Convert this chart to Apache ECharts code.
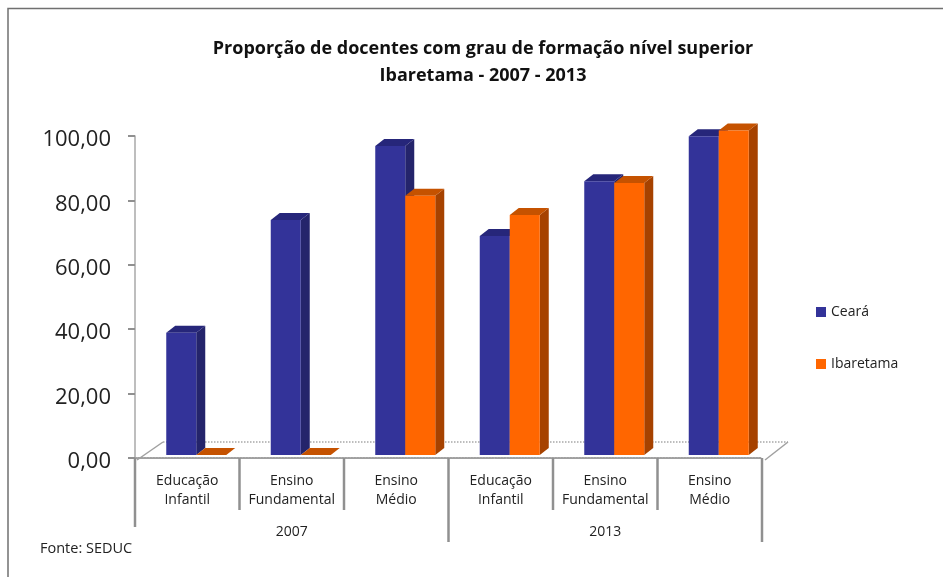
<!DOCTYPE html>
<html><head><meta charset="utf-8">
<style>html,body{margin:0;padding:0;background:#fff}#c{width:943px;height:577px}</style>
<script src="https://cdn.jsdelivr.net/npm/echarts@6/dist/echarts.min.js"></script>
</head><body><div id="c"></div>
<script>
const titleText = 'Proporção de docentes com grau de formação nível superior\nIbaretama - 2007 - 2013';
const categories = ['Educação\nInfantil','Ensino\nFundamental','Ensino\nMédio','Educação\nInfantil','Ensino\nFundamental','Ensino\nMédio'];
const years = ['2007','2013'];
const ceara = [38,73,96,68,85,99];
const ibaretama = [0,0,80.5,74.5,84.5,100.8];
const yTicks = {min:0,max:100,interval:20};
const FONT = 'Open Sans';
const chart = echarts.init(document.getElementById('c'),null,{renderer:'canvas'});
const DX=9, DY=-7, BW=30, LIFT=-3, SHIFT=9;
const SEP = [69,52,52,84,52,52,84];
function barRender(colors, side){
  return function(params, api){
    const p = api.coord([api.value(0), api.value(1)]);
    const b = api.coord([api.value(0), 0]);
    const cx = p[0]+SHIFT;
    const x0 = side===0 ? cx-BW : cx;
    const x1 = x0+BW;
    const yt = p[1]+LIFT, yb = b[1]+LIFT;
    return {type:'group',children:[
      {type:'polygon',shape:{points:[[x1,yb],[x1+DX,yb+DY],[x1+DX,yt+DY],[x1,yt]]},style:{fill:colors[2]}},
      {type:'polygon',shape:{points:[[x0,yt],[x0+DX,yt+DY],[x1+DX,yt+DY],[x1,yt]]},style:{fill:colors[1]}},
      {type:'rect',shape:{x:x0,y:yt,width:BW,height:yb-yt},style:{fill:colors[0]}}
    ]};
  };
}
function floorRender(params, api){
  const a = api.coord([0,0]), size = api.size([1,0])[0];
  const l = a[0]-size/2, r = l+size*6, y=a[1];
  const st = {stroke:'#a8a8a8',lineWidth:1.5,lineDash:[1.5,1.5]};
  const seps = SEP.map((len,i)=>({type:'line',shape:{x1:l+size*i,y1:y,x2:l+size*i,y2:y+len},
    style:{stroke:'#909090',lineWidth:2.5}}));
  return {type:'group',children:[
    {type:'line',shape:{x1:l+28,y1:y-16,x2:r+26,y2:y-16},style:st},
    {type:'line',shape:{x1:l+2,y1:y+2,x2:l+28,y2:y-16},style:{stroke:'#a0a0a0',lineWidth:1.5}},
    {type:'line',shape:{x1:r+3,y1:y+2,x2:r+26,y2:y-16},style:{stroke:'#a0a0a0',lineWidth:1.5}}
  ].concat(seps)};
}
chart.setOption({
  animation:false,
  backgroundColor:'#fff',
  textStyle:{fontFamily:FONT},
  title:{text:titleText,left:478,top:30,textAlign:'center',
    textStyle:{fontFamily:FONT,fontSize:18,fontWeight:'bold',color:'#111',lineHeight:27}},
  legend:{orient:'vertical',left:811,top:300,itemWidth:10,itemHeight:10,itemGap:38,
    icon:'rect',textStyle:{fontFamily:FONT,fontSize:14,color:'#222'},
    data:[{name:'Ceará',itemStyle:{color:'#333399'}},{name:'Ibaretama',itemStyle:{color:'#ff6600'}}]},
  grid:{left:135,right:181,top:136,height:322,containLabel:false},
  graphic:[
    {type:'polyline',silent:true,z:-1,shape:{points:[[8,577],[8,8.5],[943,8.5]]},style:{fill:'none',stroke:'#707070',lineWidth:1.5}},
    {type:'text',left:40,top:541,style:{text:'Fonte: SEDUC',font:'14.5px "'+FONT+'"',fill:'#222'}}
  ],
  xAxis:[
    {type:'category',data:categories,position:'bottom',offset:3,
      axisLine:{show:true,lineStyle:{color:'#a0a0a0',width:2,type:[1.5,1.5]}},
      axisTick:{show:false},
      axisLabel:{interval:0,margin:11,fontFamily:FONT,fontSize:14,lineHeight:19,color:'#222'}},
    {type:'category',data:years,position:'bottom',
      axisLine:{show:false},
      axisTick:{show:false},
      axisLabel:{interval:0,margin:67,fontFamily:FONT,fontSize:14,color:'#222'}}
  ],
  yAxis:{type:'value',min:yTicks.min,max:yTicks.max,interval:yTicks.interval,
    axisLine:{show:true,lineStyle:{color:'#a8a8a8',width:1.5}},
    axisTick:{show:true,length:7,lineStyle:{color:'#909090',width:2}},
    splitLine:{show:false},
    axisLabel:{margin:24,verticalAlign:'top',lineHeight:8,fontFamily:FONT,fontSize:22,color:'#222',
      formatter:v=>v.toFixed(2).replace('.',',')}},
  series:[
    {type:'custom',name:'floor',silent:true,data:[[0,0]],encode:{x:0,y:1},renderItem:floorRender,clip:false,z:1,legendHoverLink:false},
    {type:'custom',name:'Ceará',data:ceara.map((v,i)=>[i,v]),encode:{x:0,y:1},clip:false,z:2,
      itemStyle:{color:'#333399'},renderItem:barRender(['#333399','#26267a','#24246b'],0)},
    {type:'custom',name:'Ibaretama',data:ibaretama.map((v,i)=>[i,v]),encode:{x:0,y:1},clip:false,z:3,
      itemStyle:{color:'#ff6600'},renderItem:barRender(['#ff6600','#c55200','#a64200'],1)}
  ]
});
</script></body></html>
